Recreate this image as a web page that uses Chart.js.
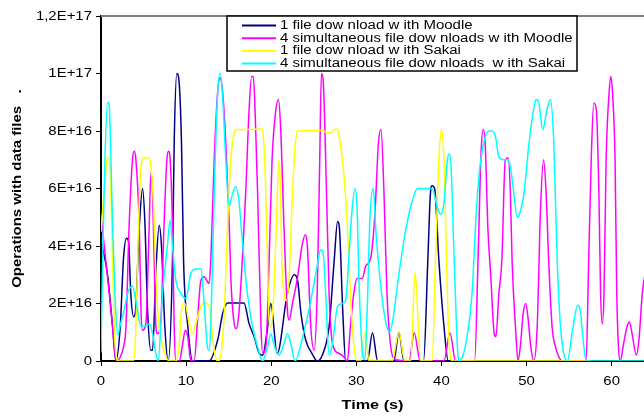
<!DOCTYPE html>
<html>
<head>
<meta charset="utf-8">
<script src="https://cdn.jsdelivr.net/npm/chart.js@4.4.0/dist/chart.umd.min.js"></script>
<style>
  body { margin: 0; background: #fff; }
  #wrap { width: 644px; height: 417px; }
</style>
</head>
<body>
<div id="wrap"><canvas id="chart" width="644" height="417"></canvas></div>
<script>
// legend texts, as printed on the original
const seriesNames = [
  '1 file dow nload w ith Moodle',
  '4 simultaneous file dow nloads w ith Moodle',
  '1 file dow nload w ith Sakai',
  '4 simultaneous file dow nloads  w ith Sakai'
];
const seriesColors = ['#000080', '#ff00ff', '#ffff00', '#00ffff'];

const xTickLabels = ['0', '10', '20', '30', '40', '50', '60'];
const yTickLabels = ['0', '2E+16', '4E+16', '6E+16', '8E+16', '1E+17', '1,2E+17'];
const xTitle = 'Time (s)';
const yTitle = 'Operations with data files   .';

// time in s / operations in units of 1E+16
const moodle1Time = [0, 0.77, 1.36, 1.75, 2.26, 2.65, 3.0, 3.24, 3.5, 3.83, 4.02, 4.5, 4.88, 5.16, 5.47, 5.86, 6.06, 6.45, 6.84, 7.11, 7.5, 7.9, 8.4, 8.6, 8.91, 9.1, 9.46, 9.7, 10.2, 10.75, 12.7, 13.7, 14.3, 14.86, 15.5, 16.8, 17.4, 18.0, 18.6, 19.0, 19.5, 19.95, 20.7, 21.9, 22.7, 23.1, 23.5, 24.06, 24.8, 25.4, 26.0, 26.8, 27.4, 27.8, 28.0, 28.4, 28.75, 31.3, 31.9, 32.5, 34.4, 35.0, 35.6, 37.9, 38.4, 38.7, 38.9, 39.2, 39.7, 40.3, 40.8, 42];
const moodle1Ops = [4.2, 3.0, 1.2, 0, 1.2, 3.6, 4.27, 4.15, 2.35, 1.54, 1.65, 4.67, 6.0, 4.8, 1.77, 0.37, 0.37, 3.16, 4.71, 3.98, 1.2, 0, 3.5, 7.6, 10.0, 9.9, 7.58, 3.5, 1.2, 0, 0, 0.72, 1.65, 2.02, 2.02, 2.02, 1.3, 0.84, 0.26, 0.2, 1.0, 2.0, 0.26, 2.35, 3.0, 2.8, 1.65, 0.72, 0.26, 0, 0.2, 1.2, 3.5, 4.85, 4.67, 1.77, 0, 0, 0.98, 0, 0, 1.0, 0, 0, 3.5, 5.8, 6.1, 6.0, 3.5, 1.2, 0, 0];

const moodle4Time = [0, 0.38, 0.97, 1.36, 1.64, 1.87, 2.26, 2.65, 2.93, 3.3, 3.7, 3.9, 4.1, 4.5, 4.7, 4.88, 5.27, 5.66, 5.86, 6.06, 6.25, 6.45, 6.64, 7.04, 7.4, 7.74, 7.93, 8.13, 8.4, 8.6, 8.8, 9.2, 9.6, 9.9, 10.2, 10.55, 10.95, 11.34, 11.73, 12.1, 12.7, 12.9, 13.3, 13.7, 14.0, 14.3, 14.66, 15.05, 15.25, 15.65, 15.9, 16.2, 16.6, 17.0, 17.4, 17.7, 17.9, 18.1, 18.4, 18.8, 19.0, 19.4, 19.75, 20.1, 20.5, 20.85, 21.1, 21.5, 21.9, 22.1, 22.5, 23.1, 23.6, 24.0, 24.25, 24.65, 25.05, 25.4, 25.7, 25.9, 26.1, 26.4, 26.8, 27.2, 28.0, 28.56, 28.95, 29.3, 29.7, 30.1, 30.7, 31.1, 31.7, 32.2, 32.6, 32.9, 33.25, 33.6, 34.0, 34.5, 36.2, 36.8, 37.5, 40.3, 41.0, 41.66, 43.9, 44.3, 44.65, 44.9, 45.15, 45.45, 45.8, 46.2, 46.4, 46.75, 47.1, 47.5, 47.85, 48.1, 48.3, 48.7, 49.0, 49.3, 49.6, 49.9, 50.2, 50.5, 50.86, 51.25, 51.64, 52.0, 52.3, 52.6, 53.0, 53.4, 53.8, 54.2, 57.0, 57.3, 57.6, 57.9, 58.2, 58.5, 58.7, 58.9, 59.1, 59.35, 59.7, 59.9, 60.1, 60.4, 60.6, 60.8, 61.0, 61.4, 61.8, 62.1, 62.4, 62.9, 63.2, 63.6, 64.0];
const moodle4Ops = [5.1, 4.0, 2.35, 1.18, 0.26, 0, 0.14, 0.49, 1.18, 4.67, 7.0, 7.3, 7.0, 4.67, 1.77, 1.07, 1.3, 4.67, 6.54, 5.84, 3.5, 1.18, 0.95, 1.42, 4.67, 7.0, 7.3, 7.0, 4.67, 1.18, 0, 0, 0.6, 1.07, 0.84, 0, 0, 1.42, 2.8, 2.93, 2.7, 3.5, 7.0, 9.33, 9.85, 9.33, 7.6, 4.9, 2.93, 1.3, 1.13, 1.65, 3.5, 5.84, 8.74, 9.9, 9.9, 8.74, 5.84, 1.18, 0.26, 0.6, 3.5, 7.0, 8.63, 9.1, 8.16, 4.67, 1.77, 1.42, 2.0, 2.93, 3.98, 4.39, 3.98, 1.18, 0.37, 2.35, 7.0, 10.0, 9.8, 7.0, 2.35, 0.6, 0.26, 0.14, 0, 1.18, 2.35, 2.87, 2.87, 3.3, 3.6, 5.2, 7.6, 8.05, 5.84, 2.35, 0.6, 0.05, 0, 0.98, 0, 0, 0.98, 0, 0, 3.5, 7.2, 8.05, 7.5, 4.67, 2.93, 0.95, 0.84, 2.35, 3.5, 7.0, 7.06, 5.84, 3.5, 1.19, 0, 0.6, 1.65, 2.0, 1.42, 0.49, 0, 1.19, 5.26, 7.0, 5.84, 3.5, 1.19, 0.49, 0.14, 0, 0, 3.5, 7.0, 8.97, 8.74, 5.84, 2.35, 1.3, 2.35, 7.0, 9.33, 9.9, 9.33, 7.0, 2.35, 0.49, 0, 0.6, 1.19, 1.36, 0.95, 0.2, 0.72, 2.35, 3.2];

const sakai1Time = [0, 0.4, 0.8, 1.1, 1.36, 1.56, 1.75, 2.0, 3.8, 4.1, 4.4, 4.7, 5.08, 5.66, 5.9, 6.2, 6.45, 6.84, 7.4, 8.0, 8.8, 9.2, 9.46, 9.85, 10.36, 10.75, 11.14, 11.73, 12.3, 12.7, 13.0, 13.3, 13.7, 14.1, 14.5, 14.86, 15.25, 15.65, 16.0, 17.4, 18.8, 19.0, 19.3, 19.56, 19.75, 19.95, 20.3, 20.6, 20.9, 21.1, 21.25, 21.5, 21.8, 22.1, 22.5, 22.8, 23.1, 24.45, 26.0, 26.6, 27.0, 27.4, 27.8, 28.05, 28.56, 28.95, 29.3, 29.7, 30.1, 30.5, 31.0, 31.5, 34.2, 35.0, 35.7, 36.4, 36.9, 37.55, 38.9, 39.3, 39.7, 40.0, 40.3, 40.6, 40.9, 41.3, 57.5];
const sakai1Ops = [4.5, 6.0, 7.1, 6.4, 3.5, 1.18, 0.25, 0, 0, 1.18, 4.67, 6.77, 7.06, 7.06, 6.65, 5.26, 2.93, 1.19, 0.37, 0, 0, 0.6, 1.77, 2.0, 1.3, 0.95, 1.3, 1.9, 2.02, 1.9, 1.19, 0.37, 0, 0.25, 1.77, 4.67, 7.0, 7.93, 8.05, 8.05, 8.07, 8.0, 6.42, 3.5, 1.42, 1.19, 2.35, 4.67, 7.0, 5.84, 3.5, 2.35, 2.1, 2.93, 5.84, 7.46, 8.0, 8.02, 8.02, 7.93, 7.93, 8.05, 8.07, 7.7, 6.42, 4.67, 2.35, 0.6, 0, 0, 1.0, 0, 0, 1.0, 0, 0, 3.1, 0, 0, 3.5, 7.0, 8.05, 7.0, 3.5, 0.6, 0, 0];

const sakai4Time = [0, 0.19, 0.46, 0.77, 0.97, 1.17, 1.36, 1.64, 1.95, 2.3, 2.73, 3.12, 3.7, 4.1, 4.7, 5.08, 5.7, 6.06, 6.45, 6.72, 7.23, 7.8, 8.13, 8.4, 8.8, 9.38, 9.97, 10.56, 11.14, 11.73, 12.1, 12.5, 12.7, 12.9, 13.3, 13.7, 14.0, 14.27, 14.66, 15.05, 15.45, 15.84, 16.2, 16.6, 17.2, 17.8, 18.4, 18.97, 19.56, 19.95, 20.3, 20.9, 21.5, 21.9, 22.3, 22.8, 23.7, 24.65, 25.4, 25.8, 26.1, 26.4, 26.8, 27.2, 27.8, 28.4, 28.75, 29.1, 29.5, 29.85, 30.1, 30.3, 30.7, 31.0, 31.3, 31.6, 31.99, 32.3, 32.8, 33.4, 33.9, 34.3, 34.9, 35.8, 36.6, 37.2, 38.1, 38.9, 39.5, 39.9, 40.3, 40.7, 40.95, 41.15, 41.5, 41.9, 42.05, 42.6, 43.0, 43.6, 44.0, 44.4, 45.0, 45.6, 45.96, 46.35, 46.75, 47.3, 47.7, 48.1, 48.5, 48.9, 49.2, 49.7, 50.3, 50.9, 51.1, 51.4, 51.9, 52.4, 52.8, 53.2, 53.6, 54.0, 54.8, 55.35, 56.0, 56.3, 56.7, 57.0, 64.0];
const sakai4Ops = [0.3, 3.5, 7.0, 9.0, 8.87, 7.0, 4.67, 2.34, 0.9, 1.3, 1.77, 2.35, 2.6, 2.1, 1.2, 1.2, 1.3, 0.95, 0.26, 0, 2.35, 4.0, 4.9, 4.0, 2.8, 2.35, 2.17, 3.05, 3.2, 3.2, 2.1, 0.5, 0.37, 1.2, 5.8, 9.3, 10.0, 9.3, 7.0, 5.4, 5.8, 6.07, 5.6, 4.2, 2.35, 1.2, 0.49, 0, 0.49, 0.95, 0.6, 0.2, 0.6, 0.95, 0.6, 0, 0.84, 2.1, 3.3, 3.87, 3.75, 2.35, 0.2, 0.6, 1.9, 2.0, 2.1, 3.5, 5.26, 6.0, 5.26, 2.9, 0.37, 0.05, 2.0, 5.0, 6.0, 4.5, 2.8, 1.44, 1.0, 1.44, 2.8, 4.55, 5.6, 6.0, 6.0, 6.0, 5.37, 5.1, 5.5, 7.0, 7.2, 6.6, 3.5, 0.37, 0, 0.26, 0.84, 2.35, 4.67, 6.4, 7.64, 8.0, 8.0, 7.8, 7.1, 7.0, 7.0, 6.77, 5.84, 5.0, 5.14, 5.84, 7.6, 8.87, 9.1, 9.04, 8.05, 8.74, 9.1, 7.6, 3.5, 1.18, 0, 0.95, 1.94, 1.77, 0.6, 0, 0];

const UNIT = 1e16;
const font = 'Liberation Sans, Arial, sans-serif';

function toPoints(times, ops) {
  return times.map((t, i) => ({ x: t, y: ops[i] * UNIT }));
}

// the original's text is a little stretched sideways, so draw it by hand
function stretchedText(ctx, text, x, y, align, stretch, rotation) {
  const w = ctx.measureText(text).width * stretch;
  let start = 0;
  if (align === 'center') start = -w / 2;
  if (align === 'right') start = -w;
  ctx.save();
  ctx.translate(x, y);
  if (rotation) ctx.rotate(rotation);
  ctx.translate(start, 0);
  ctx.scale(stretch, 1);
  ctx.textAlign = 'left';
  ctx.fillText(text, 0, 0);
  ctx.restore();
}

const textsFrameLegend = {
  id: 'textsFrameLegend',
  afterDraw(chart) {
    const ctx = chart.ctx;
    const area = chart.chartArea;
    const xs = chart.scales.x, ys = chart.scales.y;
    ctx.save();

    // grey top frame
    ctx.strokeStyle = '#808080';
    ctx.lineWidth = 2;
    ctx.beginPath();
    ctx.moveTo(area.left, area.top);
    ctx.lineTo(area.right, area.top);
    ctx.stroke();

    // tick labels
    ctx.fillStyle = '#000';
    ctx.textBaseline = 'middle';
    ctx.font = '13px ' + font;
    ys.ticks.forEach(t => {
      const lab = yTickLabels[Math.round(t.value / 2e16)];
      stretchedText(ctx, lab, area.left - 9, ys.getPixelForValue(t.value), 'right', 1.15);
    });
    xs.ticks.forEach(t => {
      const lab = xTickLabels[Math.round(t.value / 10)];
      stretchedText(ctx, lab, xs.getPixelForValue(t.value), area.bottom + 20.5, 'center', 1.15);
    });

    // axis titles
    ctx.font = 'bold 13px ' + font;
    stretchedText(ctx, xTitle, (area.left + area.right) / 2, 405, 'center', 1.25);
    stretchedText(ctx, yTitle, 17, (area.top + area.bottom) / 2, 'center', 1.15, -Math.PI / 2);

    // boxed legend
    const bx = 227, by = 16, bw = 350, bh = 55;
    ctx.fillStyle = '#fff';
    ctx.fillRect(bx, by, bw, bh);
    ctx.strokeStyle = '#000';
    ctx.lineWidth = 1.5;
    ctx.strokeRect(bx, by, bw, bh);
    ctx.font = '12px ' + font;
    seriesNames.forEach((name, i) => {
      const y = by + 9.5 + i * 12.7;
      ctx.strokeStyle = seriesColors[i];
      ctx.lineWidth = 2;
      ctx.beginPath();
      ctx.moveTo(242, y);
      ctx.lineTo(276, y);
      ctx.stroke();
      ctx.fillStyle = '#000';
      stretchedText(ctx, name, 280, y, 'left', 1.25);
    });
    ctx.restore();
  }
};

const series = [
  [moodle1Time, moodle1Ops],
  [moodle4Time, moodle4Ops],
  [sakai1Time, sakai1Ops],
  [sakai4Time, sakai4Ops]
];

new Chart(document.getElementById('chart'), {
  type: 'line',
  data: {
    datasets: series.map((s, i) => ({
      label: seriesNames[i],
      data: toPoints(s[0], s[1]),
      borderColor: seriesColors[i],
      backgroundColor: seriesColors[i],
      borderWidth: 1.5,
      pointRadius: 0,
      fill: false,
      cubicInterpolationMode: 'monotone',
      order: 4 - i   // later series on top, like the original
    }))
  },
  options: {
    responsive: false,
    animation: false,
    devicePixelRatio: 1,
    layout: { padding: { top: 16, right: 0, bottom: 0, left: 0 } },
    plugins: { legend: { display: false }, tooltip: { enabled: false } },
    scales: {
      x: {
        type: 'linear',
        min: 0,
        max: 63.8,
        afterFit: s => { s.height = 56; },
        border: { color: '#000', width: 2 },
        grid: { drawOnChartArea: false, tickLength: 5, color: '#000' },
        ticks: { stepSize: 10, includeBounds: false, display: false }
      },
      y: {
        min: 0,
        max: 1.2e17,
        afterFit: s => { s.width = 101; },
        border: { color: '#000', width: 2 },
        grid: { drawOnChartArea: false, tickLength: 5, color: '#000' },
        ticks: { stepSize: 2e16, display: false }
      }
    }
  },
  plugins: [textsFrameLegend]
});
</script>
</body>
</html>
